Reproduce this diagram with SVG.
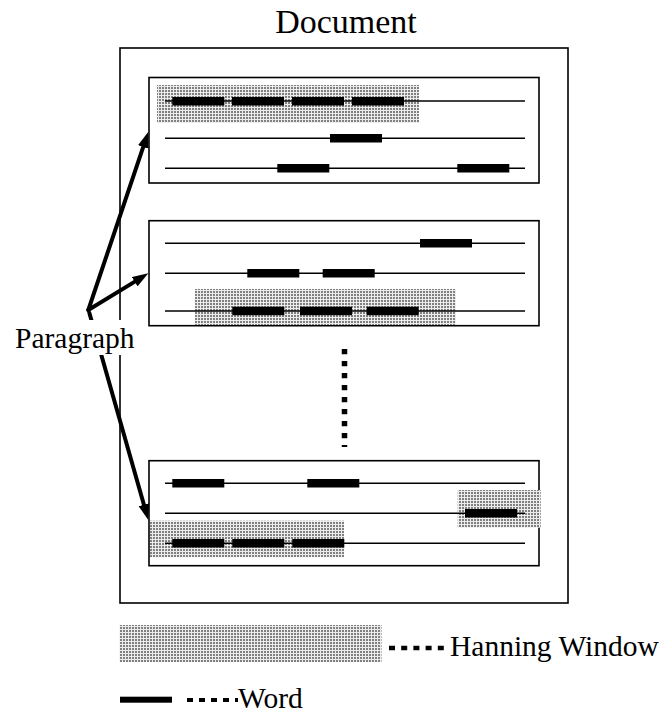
<svg xmlns="http://www.w3.org/2000/svg" width="665" height="713" viewBox="0 0 665 713">
<defs>
<pattern id="dots" x="0" y="0" width="3" height="3" patternUnits="userSpaceOnUse">
<rect width="3" height="3" fill="#ececec"/>
<rect x="0" y="0" width="2" height="2" fill="#808080"/>
</pattern>
<marker id="ah" markerUnits="userSpaceOnUse" markerWidth="16" markerHeight="12" refX="4" refY="6" orient="auto">
<path d="M0,0.5 L16,6 L0,11.5 z" fill="#000"/>
</marker>
<style>
.box{fill:none;stroke:#000;stroke-width:1.6}
.ln{stroke:#000;stroke-width:1.4}
.wd{fill:#000}
.hw{fill:url(#dots)}
.arr{stroke:#000;stroke-width:4;fill:none;stroke-linecap:round}
.t{font-family:"Liberation Serif","Times New Roman",serif;fill:#000}
</style>
</defs>
<rect width="665" height="713" fill="#fff"/>
<g id="document">
<rect class="box" x="120" y="48" width="448" height="555"/>
<text class="t" x="346" y="33" font-size="34" text-anchor="middle">Document</text>
</g>
<g id="paragraph1">
<rect class="box" x="149" y="77.5" width="390" height="105.5"/>
<rect class="hw" x="157" y="85" width="262" height="38"/>
<line class="ln" x1="165" y1="101" x2="525" y2="101"/>
<line class="ln" x1="165" y1="138.3" x2="525" y2="138.3"/>
<line class="ln" x1="165" y1="168.3" x2="525" y2="168.3"/>
<rect class="wd" x="172.3" y="97" width="52" height="8.5"/>
<rect class="wd" x="232" y="97" width="52" height="8.5"/>
<rect class="wd" x="292" y="97" width="52" height="8.5"/>
<rect class="wd" x="352" y="97" width="52" height="8.5"/>
<rect class="wd" x="330" y="134" width="52" height="8.5"/>
<rect class="wd" x="277.3" y="164" width="52" height="8.5"/>
<rect class="wd" x="457.3" y="164" width="52" height="8.5"/>
</g>
<g id="paragraph2">
<rect class="box" x="149" y="220.7" width="390" height="105"/>
<rect class="hw" x="195" y="289" width="261" height="36"/>
<line class="ln" x1="165" y1="243.3" x2="525" y2="243.3"/>
<line class="ln" x1="165" y1="273.3" x2="525" y2="273.3"/>
<line class="ln" x1="165" y1="311" x2="525" y2="311"/>
<rect class="wd" x="420" y="239" width="52" height="8.5"/>
<rect class="wd" x="247.3" y="269" width="52" height="8.5"/>
<rect class="wd" x="322.7" y="269" width="52" height="8.5"/>
<rect class="wd" x="232.3" y="306.7" width="52" height="8.5"/>
<rect class="wd" x="300" y="306.7" width="52" height="8.5"/>
<rect class="wd" x="366.7" y="306.7" width="52" height="8.5"/>
</g>
<g id="ellipsis">
<line x1="344.5" y1="349" x2="344.5" y2="447" stroke="#000" stroke-width="5.5" stroke-dasharray="5.3 6.7"/>
</g>
<g id="paragraph3">
<rect class="box" x="149" y="460.7" width="390" height="105"/>
<rect class="hw" x="457.7" y="490" width="83" height="37.7"/>
<rect class="hw" x="150" y="520.7" width="194" height="36.6"/>
<line class="ln" x1="165" y1="483.3" x2="525" y2="483.3"/>
<line class="ln" x1="165" y1="513.3" x2="525" y2="513.3"/>
<line class="ln" x1="165" y1="543.3" x2="525" y2="543.3"/>
<rect class="wd" x="172.3" y="479" width="52" height="8.5"/>
<rect class="wd" x="307.3" y="479" width="52" height="8.5"/>
<rect class="wd" x="465" y="509" width="52" height="8.5"/>
<rect class="wd" x="172.3" y="539" width="52" height="8.5"/>
<rect class="wd" x="232.3" y="539" width="52" height="8.5"/>
<rect class="wd" x="292.3" y="539" width="52" height="8.5"/>
</g>
<g id="connectors">
<line class="arr" x1="88.3" y1="310" x2="144.5" y2="143.1" marker-end="url(#ah)"/>
<line class="arr" x1="88.3" y1="310" x2="138.1" y2="279.6" marker-end="url(#ah)"/>
<line class="arr" x1="89.3" y1="312.7" x2="145" y2="508.5" marker-end="url(#ah)"/>
</g>
<g id="paragraph-label">
<rect x="13" y="320" width="124" height="35" fill="#fff"/>
<text class="t" x="15" y="348" font-size="29.5">Paragraph</text>
</g>
<g id="legend-hanning">
<rect class="hw" x="119.5" y="625" width="262" height="37"/>
<line x1="389" y1="648" x2="444" y2="648" stroke="#000" stroke-width="4.5" stroke-dasharray="6 6.2"/>
<text class="t" x="450" y="656" font-size="29.5">Hanning Window</text>
</g>
<g id="legend-word">
<rect class="wd" x="120" y="696.7" width="52" height="6"/>
<line x1="187" y1="700" x2="238" y2="700" stroke="#000" stroke-width="4" stroke-dasharray="6 6"/>
<text class="t" x="238" y="708" font-size="29.5">Word</text>
</g>
</svg>
